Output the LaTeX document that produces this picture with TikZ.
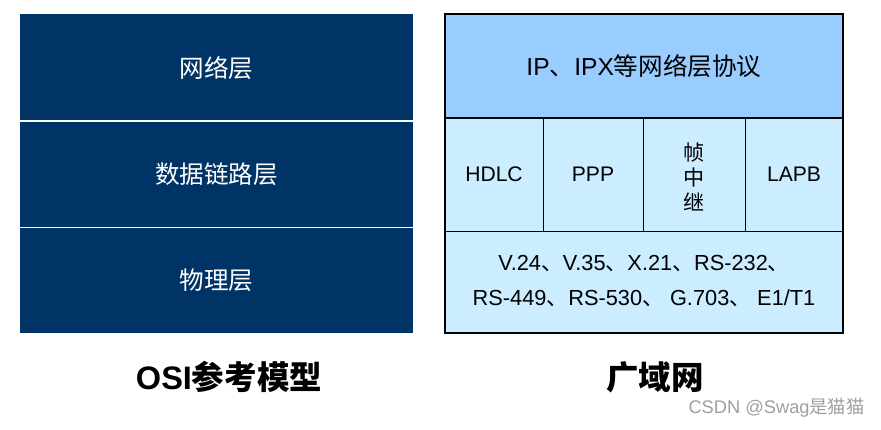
\documentclass[tikz,border=0pt]{standalone}
\usepackage{fontspec}
\setmainfont{Liberation Sans}
\newfontfamily\cjk{Noto Sans CJK SC}
\newfontfamily\cjkb{Noto Sans CJK SC Bold}
\usepackage{tikz}
\usetikzlibrary{positioning}
\definecolor{navy}{HTML}{003366}
\definecolor{skyblue}{HTML}{99CCFF}
\definecolor{paleblue}{HTML}{CCECFF}
\newcommand{\zh}[1]{{\cjk #1}}

\begin{document}
\begin{tikzpicture}[x=0.02cm,y=-0.02cm,font=\fontsize{12}{14}\selectfont,
  osi/.style={white,font=\fontsize{14}{16}\selectfont\cjk},
  title/.style={font=\fontsize{18.5}{20}\selectfont\bfseries}]
  \useasboundingbox (0,0) rectangle (881,429);
  % OSI stack
  \fill[navy] (20,14) rectangle (413,333);
  \draw[white,line width=0.6pt] (20,121)--(413,121) (20,227.5)--(413,227.5);
  \node[osi] (net) at (216.5,68) {网络层};
  \node[osi] (dlink) at (216.5,174) {数据链路层};
  \node[osi] (phys) at (216.5,280) {物理层};
  % WAN stack
  \fill[skyblue] (445,14) rectangle (843,118);
  \fill[paleblue] (445,118) rectangle (843,333);
  \draw[line width=0.9pt] (445,118)--(843,118) (445,231.5)--(843,231.5);
  \foreach \x in {543,643,745}{\draw[line width=0.45pt] (\x,118)--(\x,231.5);}
  \draw[line width=1.1pt] (445,14) rectangle (843,333);
  \node[font=\fontsize{14}{16}\selectfont] (ip) at (644,66) {IP\zh{、}IPX\zh{等网络层协议}};
  \foreach \x/\n/\t in {494/hdlc/HDLC,593/ppp/PPP,794/lapb/LAPB}{\node (\n) at (\x,174.5) {\t};}
  \node[align=center,font=\fontsize{12}{14.2}\selectfont\cjk] (fr) at (694,177) {帧\\中\\继};
  \node[align=center,font=\fontsize{12.4}{20}\selectfont] (iface) at (644,281)
    {V.24\zh{、}V.35\zh{、}X.21\zh{、}RS-232\zh{、}\\RS-449\zh{、}RS-530\zh{、} G.703\zh{、} E1/T1};
  % titles
  \node[title] (osititle) at (229,377) {OSI{\cjkb 参考模型}};
  \node[title] (wantitle) at (655,377) {\cjkb 广域网};
  \node[gray!75,font=\fontsize{10.4}{12}\selectfont] (mark) at (776.5,408) {CSDN @Swag\zh{是猫猫}};
\end{tikzpicture}
\end{document}
